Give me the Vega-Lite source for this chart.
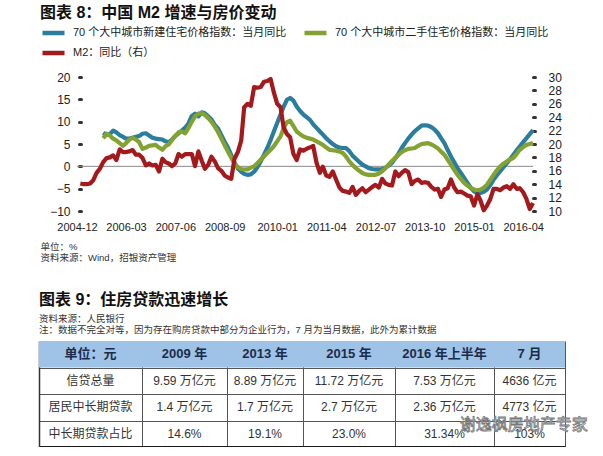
{
  "$schema": "https://vega.github.io/schema/vega-lite/v6.json",
  "background": "white",
  "padding": {"left": 39, "top": 5, "right": 0, "bottom": 0},
  "spacing": 29,
  "config": {
    "font": "Liberation Sans, Noto Sans CJK SC",
    "view": {"stroke": null},
    "axis": {"labelFont": "Liberation Sans, Noto Sans CJK SC", "titleFont": "Liberation Sans, Noto Sans CJK SC", "labelColor": "#222"},
    "legend": {"labelFont": "Liberation Sans, Noto Sans CJK SC"},
    "title": {"font": "Liberation Sans, Noto Sans CJK SC", "subtitleFont": "Liberation Sans, Noto Sans CJK SC"}
  },
  "datasets": {
    "newHome": [
      {"d":"2005/08/01","v":7.5},{"d":"2005/09/01","v":7.0},{"d":"2005/10/01","v":7.2},{"d":"2005/11/01","v":8.0},{"d":"2005/12/01","v":7.6},
      {"d":"2006/01/01","v":7.0},{"d":"2006/02/01","v":6.6},{"d":"2006/03/01","v":6.2},{"d":"2006/04/01","v":6.2},{"d":"2006/05/01","v":6.4},{"d":"2006/06/01","v":6.6},{"d":"2006/07/01","v":6.8},{"d":"2006/08/01","v":7.3},{"d":"2006/09/01","v":7.4},{"d":"2006/10/01","v":6.9},{"d":"2006/11/01","v":6.4},{"d":"2006/12/01","v":6.2},
      {"d":"2007/01/01","v":6.1},{"d":"2007/02/01","v":6.0},{"d":"2007/03/01","v":5.6},{"d":"2007/04/01","v":5.4},{"d":"2007/05/01","v":6.0},{"d":"2007/06/01","v":6.8},{"d":"2007/07/01","v":7.4},{"d":"2007/08/01","v":8.0},{"d":"2007/09/01","v":8.7},{"d":"2007/10/01","v":9.6},{"d":"2007/11/01","v":11.3},{"d":"2007/12/01","v":11.8},
      {"d":"2008/01/01","v":11.2},{"d":"2008/02/01","v":12.1},{"d":"2008/03/01","v":11.9},{"d":"2008/04/01","v":11.2},{"d":"2008/05/01","v":10.5},{"d":"2008/06/01","v":9.3},{"d":"2008/07/01","v":8.5},{"d":"2008/08/01","v":7.0},{"d":"2008/09/01","v":5.5},{"d":"2008/10/01","v":4.2},{"d":"2008/11/01","v":2.5},{"d":"2008/12/01","v":0.8},
      {"d":"2009/01/01","v":-0.5},{"d":"2009/02/01","v":-1.2},{"d":"2009/03/01","v":-1.7},{"d":"2009/04/01","v":-1.9},{"d":"2009/05/01","v":-1.8},{"d":"2009/06/01","v":-1.2},{"d":"2009/07/01","v":-0.2},{"d":"2009/08/01","v":1.1},{"d":"2009/09/01","v":2.6},{"d":"2009/10/01","v":4.1},{"d":"2009/11/01","v":5.9},{"d":"2009/12/01","v":7.8},
      {"d":"2010/01/01","v":9.7},{"d":"2010/02/01","v":11.6},{"d":"2010/03/01","v":13.3},{"d":"2010/04/01","v":14.9},{"d":"2010/05/01","v":15.3},{"d":"2010/06/01","v":14.7},{"d":"2010/07/01","v":13.4},{"d":"2010/08/01","v":12.4},{"d":"2010/09/01","v":11.6},{"d":"2010/10/01","v":11.0},{"d":"2010/11/01","v":10.4},{"d":"2010/12/01","v":9.4},
      {"d":"2011/01/01","v":8.6},{"d":"2011/02/01","v":7.8},{"d":"2011/03/01","v":7.1},{"d":"2011/04/01","v":6.3},{"d":"2011/05/01","v":5.6},{"d":"2011/06/01","v":5.0},{"d":"2011/07/01","v":4.5},{"d":"2011/08/01","v":4.2},{"d":"2011/09/01","v":4.1},{"d":"2011/10/01","v":4.1},{"d":"2011/11/01","v":3.4},{"d":"2011/12/01","v":2.4},
      {"d":"2012/01/01","v":1.7},{"d":"2012/02/01","v":1.0},{"d":"2012/03/01","v":0.4},{"d":"2012/04/01","v":0.0},{"d":"2012/05/01","v":-0.4},{"d":"2012/06/01","v":-0.6},{"d":"2012/07/01","v":-0.7},{"d":"2012/08/01","v":-0.7},{"d":"2012/09/01","v":-0.6},{"d":"2012/10/01","v":-0.3},{"d":"2012/11/01","v":0.2},{"d":"2012/12/01","v":0.8},
      {"d":"2013/01/01","v":1.8},{"d":"2013/02/01","v":2.9},{"d":"2013/03/01","v":4.1},{"d":"2013/04/01","v":5.2},{"d":"2013/05/01","v":6.2},{"d":"2013/06/01","v":7.1},{"d":"2013/07/01","v":7.9},{"d":"2013/08/01","v":8.5},{"d":"2013/09/01","v":9.1},{"d":"2013/10/01","v":9.2},{"d":"2013/11/01","v":9.1},{"d":"2013/12/01","v":8.8},
      {"d":"2014/01/01","v":8.2},{"d":"2014/02/01","v":7.4},{"d":"2014/03/01","v":6.3},{"d":"2014/04/01","v":5.2},{"d":"2014/05/01","v":3.7},{"d":"2014/06/01","v":2.2},{"d":"2014/07/01","v":0.9},{"d":"2014/08/01","v":-0.4},{"d":"2014/09/01","v":-1.5},{"d":"2014/10/01","v":-2.6},{"d":"2014/11/01","v":-3.7},{"d":"2014/12/01","v":-4.8},
      {"d":"2015/01/01","v":-5.6},{"d":"2015/02/01","v":-6.0},{"d":"2015/03/01","v":-6.0},{"d":"2015/04/01","v":-5.7},{"d":"2015/05/01","v":-5.2},{"d":"2015/06/01","v":-4.2},{"d":"2015/07/01","v":-3.0},{"d":"2015/08/01","v":-2.0},{"d":"2015/09/01","v":-1.1},{"d":"2015/10/01","v":-0.2},{"d":"2015/11/01","v":0.7},{"d":"2015/12/01","v":1.6},
      {"d":"2016/01/01","v":2.6},{"d":"2016/02/01","v":3.6},{"d":"2016/03/01","v":4.5},{"d":"2016/04/01","v":5.4},{"d":"2016/05/01","v":6.3},{"d":"2016/06/01","v":7.2},{"d":"2016/07/01","v":8.1}
    ],
    "usedHome": [
      {"d":"2005/08/01","v":6.3},{"d":"2005/09/01","v":7.3},{"d":"2005/10/01","v":6.9},{"d":"2005/11/01","v":6.2},{"d":"2005/12/01","v":5.8},
      {"d":"2006/01/01","v":5.2},{"d":"2006/02/01","v":4.6},{"d":"2006/03/01","v":5.2},{"d":"2006/04/01","v":6.0},{"d":"2006/05/01","v":6.4},{"d":"2006/06/01","v":6.0},{"d":"2006/07/01","v":5.4},{"d":"2006/08/01","v":3.9},{"d":"2006/09/01","v":4.2},{"d":"2006/10/01","v":4.6},{"d":"2006/11/01","v":4.7},{"d":"2006/12/01","v":4.8},
      {"d":"2007/01/01","v":4.2},{"d":"2007/02/01","v":3.7},{"d":"2007/03/01","v":4.5},{"d":"2007/04/01","v":4.9},{"d":"2007/05/01","v":5.9},{"d":"2007/06/01","v":6.8},{"d":"2007/07/01","v":7.6},{"d":"2007/08/01","v":7.8},{"d":"2007/09/01","v":7.4},{"d":"2007/10/01","v":8.6},{"d":"2007/11/01","v":10.0},{"d":"2007/12/01","v":11.2},
      {"d":"2008/01/01","v":11.8},{"d":"2008/02/01","v":11.9},{"d":"2008/03/01","v":11.5},{"d":"2008/04/01","v":10.8},{"d":"2008/05/01","v":10.0},{"d":"2008/06/01","v":8.9},{"d":"2008/07/01","v":7.7},{"d":"2008/08/01","v":6.2},{"d":"2008/09/01","v":4.7},{"d":"2008/10/01","v":3.3},{"d":"2008/11/01","v":1.9},{"d":"2008/12/01","v":0.6},
      {"d":"2009/01/01","v":-0.2},{"d":"2009/02/01","v":-0.6},{"d":"2009/03/01","v":-0.7},{"d":"2009/04/01","v":-0.7},{"d":"2009/05/01","v":-0.3},{"d":"2009/06/01","v":0.0},{"d":"2009/07/01","v":0.7},{"d":"2009/08/01","v":1.5},{"d":"2009/09/01","v":2.2},{"d":"2009/10/01","v":3.0},{"d":"2009/11/01","v":3.7},{"d":"2009/12/01","v":4.5},
      {"d":"2010/01/01","v":5.6},{"d":"2010/02/01","v":6.7},{"d":"2010/03/01","v":8.5},{"d":"2010/04/01","v":9.9},{"d":"2010/05/01","v":10.2},{"d":"2010/06/01","v":9.0},{"d":"2010/07/01","v":7.8},{"d":"2010/08/01","v":7.2},{"d":"2010/09/01","v":6.7},{"d":"2010/10/01","v":6.4},{"d":"2010/11/01","v":6.2},{"d":"2010/12/01","v":6.0},
      {"d":"2011/01/01","v":5.6},{"d":"2011/02/01","v":5.2},{"d":"2011/03/01","v":4.8},{"d":"2011/04/01","v":4.2},{"d":"2011/05/01","v":3.7},{"d":"2011/06/01","v":3.6},{"d":"2011/07/01","v":3.5},{"d":"2011/08/01","v":3.3},{"d":"2011/09/01","v":3.0},{"d":"2011/10/01","v":2.2},{"d":"2011/11/01","v":1.1},{"d":"2011/12/01","v":0.3},
      {"d":"2012/01/01","v":-0.4},{"d":"2012/02/01","v":-1.0},{"d":"2012/03/01","v":-1.5},{"d":"2012/04/01","v":-1.8},{"d":"2012/05/01","v":-1.9},{"d":"2012/06/01","v":-1.9},{"d":"2012/07/01","v":-1.9},{"d":"2012/08/01","v":-1.6},{"d":"2012/09/01","v":-1.1},{"d":"2012/10/01","v":-0.4},{"d":"2012/11/01","v":0.4},{"d":"2012/12/01","v":1.2},
      {"d":"2013/01/01","v":1.9},{"d":"2013/02/01","v":2.6},{"d":"2013/03/01","v":3.2},{"d":"2013/04/01","v":3.6},{"d":"2013/05/01","v":3.9},{"d":"2013/06/01","v":4.0},{"d":"2013/07/01","v":4.1},{"d":"2013/08/01","v":4.6},{"d":"2013/09/01","v":5.0},{"d":"2013/10/01","v":5.1},{"d":"2013/11/01","v":5.2},{"d":"2013/12/01","v":4.9},
      {"d":"2014/01/01","v":4.5},{"d":"2014/02/01","v":4.0},{"d":"2014/03/01","v":3.3},{"d":"2014/04/01","v":2.6},{"d":"2014/05/01","v":1.5},{"d":"2014/06/01","v":0.4},{"d":"2014/07/01","v":-0.8},{"d":"2014/08/01","v":-1.9},{"d":"2014/09/01","v":-2.8},{"d":"2014/10/01","v":-3.7},{"d":"2014/11/01","v":-4.3},{"d":"2014/12/01","v":-4.8},
      {"d":"2015/01/01","v":-5.2},{"d":"2015/02/01","v":-5.4},{"d":"2015/03/01","v":-5.2},{"d":"2015/04/01","v":-4.8},{"d":"2015/05/01","v":-4.1},{"d":"2015/06/01","v":-3.0},{"d":"2015/07/01","v":-1.9},{"d":"2015/08/01","v":-0.9},{"d":"2015/09/01","v":0.0},{"d":"2015/10/01","v":0.6},{"d":"2015/11/01","v":1.1},{"d":"2015/12/01","v":1.5},
      {"d":"2016/01/01","v":1.9},{"d":"2016/02/01","v":2.8},{"d":"2016/03/01","v":3.7},{"d":"2016/04/01","v":4.3},{"d":"2016/05/01","v":4.8},{"d":"2016/06/01","v":5.0},{"d":"2016/07/01","v":5.2}
    ],
    "m2": [
      {"d":"2005/01/01","v":14.1},{"d":"2005/02/01","v":14.0},{"d":"2005/03/01","v":14.0},{"d":"2005/04/01","v":14.1},{"d":"2005/05/01","v":14.6},{"d":"2005/06/01","v":15.7},{"d":"2005/07/01","v":16.3},{"d":"2005/08/01","v":17.3},{"d":"2005/09/01","v":17.9},{"d":"2005/10/01","v":18.0},{"d":"2005/11/01","v":18.3},{"d":"2005/12/01","v":17.6},
      {"d":"2006/01/01","v":19.2},{"d":"2006/02/01","v":18.8},{"d":"2006/03/01","v":18.8},{"d":"2006/04/01","v":18.9},{"d":"2006/05/01","v":19.1},{"d":"2006/06/01","v":18.4},{"d":"2006/07/01","v":18.4},{"d":"2006/08/01","v":17.9},{"d":"2006/09/01","v":16.8},{"d":"2006/10/01","v":17.1},{"d":"2006/11/01","v":16.8},{"d":"2006/12/01","v":16.9},
      {"d":"2007/01/01","v":15.9},{"d":"2007/02/01","v":17.8},{"d":"2007/03/01","v":17.3},{"d":"2007/04/01","v":17.1},{"d":"2007/05/01","v":16.7},{"d":"2007/06/01","v":17.1},{"d":"2007/07/01","v":18.5},{"d":"2007/08/01","v":18.1},{"d":"2007/09/01","v":18.5},{"d":"2007/10/01","v":18.5},{"d":"2007/11/01","v":18.5},{"d":"2007/12/01","v":16.7},
      {"d":"2008/01/01","v":18.9},{"d":"2008/02/01","v":17.5},{"d":"2008/03/01","v":16.3},{"d":"2008/04/01","v":16.9},{"d":"2008/05/01","v":18.1},{"d":"2008/06/01","v":17.4},{"d":"2008/07/01","v":16.4},{"d":"2008/08/01","v":16.0},{"d":"2008/09/01","v":15.3},{"d":"2008/10/01","v":15.0},{"d":"2008/11/01","v":14.8},{"d":"2008/12/01","v":17.8},
      {"d":"2009/01/01","v":18.8},{"d":"2009/02/01","v":20.5},{"d":"2009/03/01","v":25.5},{"d":"2009/04/01","v":26.0},{"d":"2009/05/01","v":25.7},{"d":"2009/06/01","v":28.5},{"d":"2009/07/01","v":28.4},{"d":"2009/08/01","v":28.5},{"d":"2009/09/01","v":29.3},{"d":"2009/10/01","v":29.4},{"d":"2009/11/01","v":29.7},{"d":"2009/12/01","v":27.7},
      {"d":"2010/01/01","v":26.0},{"d":"2010/02/01","v":25.5},{"d":"2010/03/01","v":22.5},{"d":"2010/04/01","v":21.5},{"d":"2010/05/01","v":21.0},{"d":"2010/06/01","v":18.5},{"d":"2010/07/01","v":17.6},{"d":"2010/08/01","v":19.2},{"d":"2010/09/01","v":19.0},{"d":"2010/10/01","v":19.3},{"d":"2010/11/01","v":19.5},{"d":"2010/12/01","v":19.7},
      {"d":"2011/01/01","v":17.2},{"d":"2011/02/01","v":15.7},{"d":"2011/03/01","v":16.6},{"d":"2011/04/01","v":15.3},{"d":"2011/05/01","v":15.1},{"d":"2011/06/01","v":15.9},{"d":"2011/07/01","v":14.7},{"d":"2011/08/01","v":13.5},{"d":"2011/09/01","v":13.0},{"d":"2011/10/01","v":12.9},{"d":"2011/11/01","v":12.7},{"d":"2011/12/01","v":13.6},
      {"d":"2012/01/01","v":12.4},{"d":"2012/02/01","v":13.0},{"d":"2012/03/01","v":13.4},{"d":"2012/04/01","v":12.8},{"d":"2012/05/01","v":13.2},{"d":"2012/06/01","v":13.6},{"d":"2012/07/01","v":13.9},{"d":"2012/08/01","v":13.5},{"d":"2012/09/01","v":14.8},{"d":"2012/10/01","v":14.1},{"d":"2012/11/01","v":13.9},{"d":"2012/12/01","v":13.8},
      {"d":"2013/01/01","v":15.9},{"d":"2013/02/01","v":15.2},{"d":"2013/03/01","v":15.7},{"d":"2013/04/01","v":16.1},{"d":"2013/05/01","v":15.8},{"d":"2013/06/01","v":14.0},{"d":"2013/07/01","v":14.5},{"d":"2013/08/01","v":14.7},{"d":"2013/09/01","v":14.2},{"d":"2013/10/01","v":14.3},{"d":"2013/11/01","v":14.2},{"d":"2013/12/01","v":13.6},
      {"d":"2014/01/01","v":13.2},{"d":"2014/02/01","v":13.3},{"d":"2014/03/01","v":12.1},{"d":"2014/04/01","v":13.2},{"d":"2014/05/01","v":13.4},{"d":"2014/06/01","v":14.7},{"d":"2014/07/01","v":13.5},{"d":"2014/08/01","v":12.8},{"d":"2014/09/01","v":12.9},{"d":"2014/10/01","v":12.6},{"d":"2014/11/01","v":12.3},{"d":"2014/12/01","v":12.2},
      {"d":"2015/01/01","v":10.8},{"d":"2015/02/01","v":12.5},{"d":"2015/03/01","v":11.6},{"d":"2015/04/01","v":10.1},{"d":"2015/05/01","v":10.8},{"d":"2015/06/01","v":11.8},{"d":"2015/07/01","v":13.3},{"d":"2015/08/01","v":13.3},{"d":"2015/09/01","v":13.1},{"d":"2015/10/01","v":13.5},{"d":"2015/11/01","v":13.7},{"d":"2015/12/01","v":13.3},
      {"d":"2016/01/01","v":14.0},{"d":"2016/02/01","v":13.3},{"d":"2016/03/01","v":13.4},{"d":"2016/04/01","v":12.8},{"d":"2016/05/01","v":11.8},{"d":"2016/06/01","v":10.3},{"d":"2016/07/01","v":11.2}
    ],
    "table": [
      {"r":0,"c":0,"t":"单位：元"},{"r":0,"c":1,"t":"2009 年"},{"r":0,"c":2,"t":"2013 年"},{"r":0,"c":3,"t":"2015 年"},{"r":0,"c":4,"t":"2016 年上半年"},{"r":0,"c":5,"t":"7 月"},
      {"r":1,"c":0,"t":"信贷总量"},{"r":1,"c":1,"t":"9.59 万亿元"},{"r":1,"c":2,"t":"8.89 万亿元"},{"r":1,"c":3,"t":"11.72 万亿元"},{"r":1,"c":4,"t":"7.53 万亿元"},{"r":1,"c":5,"t":"4636 亿元"},
      {"r":2,"c":0,"t":"居民中长期贷款"},{"r":2,"c":1,"t":"1.4 万亿元"},{"r":2,"c":2,"t":"1.7 万亿元"},{"r":2,"c":3,"t":"2.7 万亿元"},{"r":2,"c":4,"t":"2.36 万亿元"},{"r":2,"c":5,"t":"4773 亿元"},
      {"r":3,"c":0,"t":"中长期贷款占比"},{"r":3,"c":1,"t":"14.6%"},{"r":3,"c":2,"t":"19.1%"},{"r":3,"c":3,"t":"23.0%"},{"r":3,"c":4,"t":"31.34%"},{"r":3,"c":5,"t":"103%"}
    ]
  },
  "vconcat": [
    {
      "title": {"text": "图表 8：中国 M2 增速与房价变动", "anchor": "start", "frame": "bounds", "fontSize": 16, "fontWeight": "bold", "color": "#111", "offset": 50},
      "width": 456,
      "height": 134,
      "layer": [
        {
          "layer": [
            {
              "data": {"values": [{}]},
              "mark": {"type": "rule", "color": "#8a8a8a", "strokeWidth": 1},
              "encoding": {"y": {"datum": 0, "type": "quantitative",
                "axis": {"values": [-10, -5, 0, 5, 10, 15, 20], "labelOverlap": false, "grid": false, "domain": false, "title": null, "offset": -4,
                  "tickSize": 2, "tickWidth": 3, "tickCap": "round", "tickColor": "#333", "labelPadding": 9, "labelFontSize": 12}}}
            },
            {
              "data": {"name": "newHome"},
              "mark": {"type": "line", "strokeWidth": 4.2, "strokeJoin": "round"},
              "encoding": {
                "x": {"field": "d", "type": "temporal",
                  "scale": {"domain": [{"year": 2004, "month": 12, "date": 1}, {"year": 2016, "month": 7, "date": 1}], "nice": false},
                  "axis": {
                    "values": [{"year": 2004, "month": 12, "date": 1}, {"year": 2006, "month": 3, "date": 1}, {"year": 2007, "month": 6, "date": 1}, {"year": 2008, "month": 9, "date": 1}, {"year": 2010, "month": 1, "date": 1}, {"year": 2011, "month": 4, "date": 1}, {"year": 2012, "month": 7, "date": 1}, {"year": 2013, "month": 10, "date": 1}, {"year": 2015, "month": 1, "date": 1}, {"year": 2016, "month": 4, "date": 1}],
                    "format": "%Y-%m", "labelFlush": false, "labelOverlap": false, "grid": false, "ticks": false, "tickSize": 0, "domain": false,
                    "labelPadding": 10, "labelFontSize": 11,
                    "title": ["单位：%", "资料来源：Wind，招银资产管理"],
                    "titleFontSize": 9.5, "titleFontWeight": "normal", "titleColor": "#333", "titleAnchor": "start", "titleAlign": "left", "titleBaseline": "top",
                    "titleX": -37, "titleY": 30, "titleLineHeight": 11
                  }
                },
                "y": {"field": "v", "type": "quantitative",
                  "scale": {"domain": [-10, 20], "nice": false, "zero": false},
                  "axis": {"values": [-10, -5, 0, 5, 10, 15, 20], "labelOverlap": false, "grid": false, "domain": false, "title": null, "offset": -4,
                    "tickSize": 2, "tickWidth": 3, "tickCap": "round", "tickColor": "#333", "labelPadding": 9, "labelFontSize": 12}
                },
                "color": {"datum": "70 个大中城市新建住宅价格指数：当月同比", "type": "nominal",
                  "scale": {"domain": ["70 个大中城市新建住宅价格指数：当月同比", "70 个大中城市二手住宅价格指数：当月同比", "M2：同比（右）"], "range": ["#2a7d9c", "#84a232", "#a3191c"]},
                  "legend": {"title": null, "orient": "none", "legendX": -37, "legendY": -50, "columns": 2, "direction": "horizontal",
                    "symbolType": "stroke", "symbolStrokeWidth": 4.5, "symbolSize": 484, "clipHeight": 12, "labelFontSize": 11, "labelColor": "#222", "labelLimit": 400,
                    "labelOffset": 6, "columnPadding": 15, "rowPadding": 8}
                }
              }
            },
            {
              "data": {"name": "usedHome"},
              "mark": {"type": "line", "strokeWidth": 4.2, "strokeJoin": "round"},
              "encoding": {
                "x": {"field": "d", "type": "temporal"},
                "y": {"field": "v", "type": "quantitative",
                  "axis": {"values": [-10, -5, 0, 5, 10, 15, 20], "labelOverlap": false, "grid": false, "domain": false, "title": null, "offset": -4,
                    "tickSize": 2, "tickWidth": 3, "tickCap": "round", "tickColor": "#333", "labelPadding": 9, "labelFontSize": 12}},
                "color": {"datum": "70 个大中城市二手住宅价格指数：当月同比", "type": "nominal"}
              }
            }
          ]
        },
        {
          "data": {"name": "m2"},
          "mark": {"type": "line", "strokeWidth": 4.2, "strokeJoin": "round"},
          "encoding": {
            "x": {"field": "d", "type": "temporal"},
            "y": {"field": "v", "type": "quantitative",
              "scale": {"domain": [10, 30], "nice": false, "zero": false},
              "axis": {"orient": "right", "values": [10, 12, 14, 16, 18, 20, 22, 24, 26, 28, 30], "labelOverlap": false, "grid": false, "domain": false, "title": null,
                "tickSize": 2, "tickWidth": 3, "tickCap": "round", "tickColor": "#333", "labelPadding": 13, "labelFontSize": 12}
            },
            "color": {"datum": "M2：同比（右）", "type": "nominal"}
          }
        }
      ],
      "resolve": {"scale": {"y": "independent"}, "axis": {"y": "independent"}}
    },
    {
      "title": {"text": "图表 9：住房贷款迅速增长", "subtitle": ["资料来源：人民银行", "注：数据不完全对等，因为存在购房贷款中部分为企业行为，7 月为当月数据，此外为累计数据"],
        "anchor": "start", "frame": "bounds", "fontSize": 16, "fontWeight": "bold", "color": "#111",
        "subtitleFontSize": 9.5, "subtitleColor": "#333", "subtitleLineHeight": 11, "subtitlePadding": 6, "offset": 7},
      "width": 488,
      "height": 106,
      "data": {"name": "table"},
      "layer": [
        {
          "data": {"values": [{}]},
          "mark": {"type": "rect", "fill": "#9ec3e6"},
          "encoding": {
            "x": {"datum": -0.5, "type": "quantitative",
              "scale": {"domain": [-0.5, 0, 0.5, 1, 1.5, 2, 2.5, 3, 3.5, 4, 4.5, 5, 5.5], "range": [-38, 13.5, 65, 107.5, 150, 188, 226, 272, 318, 367.5, 417, 452.5, 488], "nice": false, "zero": false},
              "axis": {"orient": "bottom", "values": [-0.5, 0.5, 1.5, 2.5, 3.5, 4.5, 5.5], "labels": false, "ticks": false, "title": null,
                "domain": true, "domainColor": "#1a1a1a", "domainWidth": 3, "grid": true, "gridColor": "#555", "gridWidth": 1, "gridOpacity": 1}
            },
            "x2": {"datum": 5.5},
            "y": {"datum": -0.5, "type": "quantitative",
              "scale": {"domain": [-0.5, 3.5], "reverse": true, "nice": false, "zero": false},
              "axis": {"orient": "left", "offset": 38, "values": [0.5, 1.5, 2.5], "labels": false, "ticks": false, "title": null,
                "domain": true, "domainColor": "#333", "domainWidth": 1.5, "grid": true, "gridColor": "#555", "gridWidth": 1, "gridOpacity": 1}
            },
            "y2": {"datum": 0.5}
          }
        },
        {
          "transform": [{"filter": "datum.r === 0"}],
          "mark": {"type": "text", "fontSize": 13, "fontWeight": "bold", "color": "#1d2b4a", "baseline": "middle", "align": "center"},
          "encoding": {
            "x": {"field": "c", "type": "quantitative"},
            "y": {"field": "r", "type": "quantitative"},
            "text": {"field": "t"}
          }
        },
        {
          "transform": [{"filter": "datum.r > 0"}],
          "mark": {"type": "text", "fontSize": 12, "color": "#333", "baseline": "middle", "align": "center"},
          "encoding": {
            "x": {"field": "c", "type": "quantitative"},
            "y": {"field": "r", "type": "quantitative"},
            "text": {"field": "t"}
          }
        },
        {
          "data": {"values": [{"w": "谢逸枫房地产专家"}]},
          "mark": {"type": "text", "fontSize": 16, "fill": "white", "stroke": "#777", "strokeWidth": 0.8, "baseline": "middle", "align": "center"},
          "encoding": {
            "x": {"datum": 4.92, "type": "quantitative"},
            "y": {"datum": 2.67, "type": "quantitative"},
            "text": {"field": "w"}
          }
        }
      ]
    }
  ]
}
